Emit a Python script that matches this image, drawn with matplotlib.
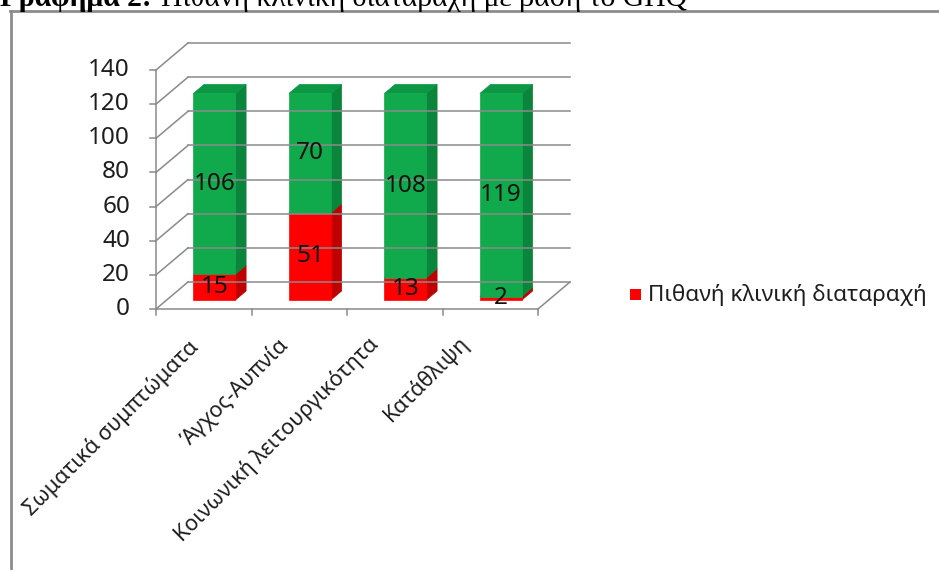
import matplotlib
matplotlib.use('Agg')
import matplotlib.pyplot as plt
import numpy as np
from matplotlib.patches import Polygon, Rectangle
from matplotlib.lines import Line2D
from matplotlib.transforms import IdentityTransform

# ---------------- data ----------------
categories = ['Σωματικά συμπτώματα', 'Άγχος-Αυπνία', 'Κοινωνική λειτουργικότητα', 'Κατάθλιψη']
clinical = [15, 51, 13, 2]          # red: Πιθανή κλινική διαταραχή
non_clinical = [106, 70, 108, 119]  # green
yticks = [0, 20, 40, 60, 80, 100, 120, 140]
legend_label = 'Πιθανή κλινική διαταραχή'
title_bold = 'Γράφημα 2:'
title_rest = 'Πιθανή κλινική διαταραχή με βάση το GHQ'

W, H = 939, 570
DPI = 100
plt.rcParams['font.family'] = ['Noto Sans', 'DejaVu Sans']

fig = plt.figure(figsize=(W / DPI, H / DPI), dpi=DPI)
fig.patch.set_facecolor('white')

# front plane of the 3D box
ax = fig.add_axes([156 / W, 1 - 309 / H, 382 / W, 239 / H])
ax.set_xlim(-0.5, len(categories) - 0.5)
ax.set_ylim(0, 140)
ax.axis('off')

DX, DY = 32.0, 27.0  # depth offset (pixels) for full depth
ID = IdentityTransform()


def proj(x, v, f):
    px, py = ax.transData.transform((x, v))
    return px + DX * f, py + DY * f


def line(p0, p1, **kw):
    fig.add_artist(Line2D([p0[0], p1[0]], [p0[1], p1[1]], transform=ID, **kw))


grid_c = '#8a8a8a'
txt_c = '#1e1e1e'
x0, x1 = -0.5, len(categories) - 0.5

# back wall gridlines and left wall diagonals
for v in yticks:
    line(proj(x0, v, 1), proj(x1, v, 1), color=grid_c, lw=1.1)
    line(proj(x0, v, 0), proj(x0, v, 1), color=grid_c, lw=1.1)
    px, py = proj(x0, v, 0)
    line((px, py), (px - 6, py), color=grid_c, lw=1.1)
    fig.text(px - 26, py, str(v), transform=ID, ha='right', va='center',
             fontsize=17.5, color=txt_c)

# front vertical axis
line(proj(x0, 0, 0), proj(x0, 140, 0), color=grid_c, lw=1.1)
# floor
line(proj(x0, 0, 0), proj(x1, 0, 0), color=grid_c, lw=1.1)
line(proj(x1, 0, 0), proj(x1, 0, 1), color=grid_c, lw=1.1)
for b in np.arange(x0, x1 + 0.01, 1.0):
    p = proj(b, 0, 0)
    line(p, (p[0], p[1] - 6), color=grid_c, lw=1.1)

# bars
w = 0.44
f0, f1 = 1 / 3, 2 / 3
red = ('#ff0000', '#c00000', '#e00000')
green = ('#10aa4c', '#0a853b', '#0c9744')


def bar(i, b, t, cols):
    front, side, top = cols
    l, r = i - w / 2, i + w / 2
    polys = [
        ([proj(r, b, f0), proj(r, b, f1), proj(r, t, f1), proj(r, t, f0)], side),
        ([proj(l, t, f0), proj(r, t, f0), proj(r, t, f1), proj(l, t, f1)], top),
        ([proj(l, b, f0), proj(r, b, f0), proj(r, t, f0), proj(l, t, f0)], front),
    ]
    for pts, c in polys:
        fig.add_artist(Polygon(pts, closed=True, transform=ID, facecolor=c,
                               edgecolor=c, lw=0.5))


for i in range(len(categories)):
    r_val, g_val = clinical[i], non_clinical[i]
    bar(i, 0, r_val, red)
    bar(i, r_val, r_val + g_val, green)
    px, py = proj(i, r_val / 2, f0)
    fig.text(px, py, str(r_val), transform=ID, ha='center', va='center',
             fontsize=17.5, color='#111111')
    px, py = proj(i, r_val + g_val / 2, f0)
    fig.text(px, py, str(g_val), transform=ID, ha='center', va='center',
             fontsize=17.5, color='#111111')

# category labels (slightly compressed spacing as in the source rendering)
for i, lab in enumerate(categories):
    px, py = proj(i, 0, 0)
    fig.text(px - 16 - 5.5 * i, py - 27 + 1.5 * i, lab, transform=ID, rotation=45,
             rotation_mode='anchor', ha='right', va='top', fontsize=15.5, color=txt_c)

# legend
fig.add_artist(Rectangle((630, H - 300), 11, 11, transform=ID,
                         facecolor='#ff0000', edgecolor='none'))
fig.text(648, H - 295, legend_label, transform=ID, ha='left', va='center',
         fontsize=16.2, color=txt_c)

# outer frame (top and left edges visible)
fig.add_artist(Line2D([10, W + 5], [H - 10.5, H - 10.5], transform=ID,
                      color='#8c8c8c', lw=2))
fig.add_artist(Line2D([10.5, 10.5], [-5, H - 10.5], transform=ID,
                      color='#8c8c8c', lw=2))

# title (mostly cut off at top, as in the source)
r = fig.canvas.get_renderer()
t1 = fig.text(0, H - 6, title_bold, transform=ID, ha='left', va='baseline',
              fontsize=21.3, fontweight='bold', family='Liberation Serif')
bb = t1.get_window_extent(renderer=r)
fig.text(bb.x1 + 9, H - 6, title_rest, transform=ID, ha='left', va='baseline',
         fontsize=21.3, family='Liberation Serif')

fig.savefig('out.png', dpi=DPI, facecolor='white')
